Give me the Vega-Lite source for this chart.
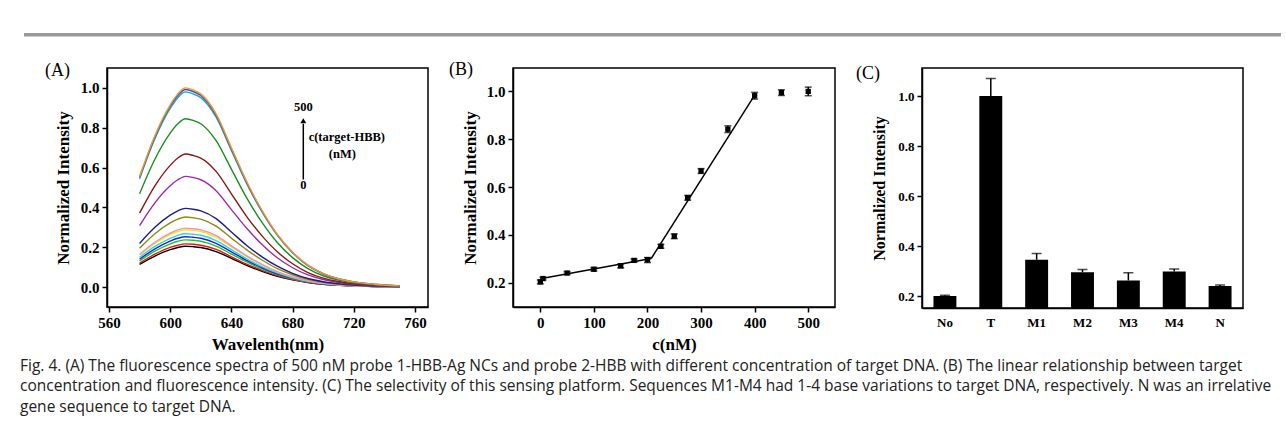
{
  "$schema": "https://vega.github.io/schema/vega-lite/v6.json",
  "padding": {"left": 20, "top": 33, "right": 0, "bottom": 0},
  "background": "white",
  "config": {
    "font": "Liberation Serif",
    "view": {"stroke": "black", "strokeWidth": 1.5},
    "axis": {"domainColor": "black", "domainWidth": 1.5, "tickColor": "black", "tickWidth": 1.5, "tickSize": 5, "labelColor": "black", "labelFont": "Liberation Serif", "labelFontWeight": "bold", "labelFontSize": 15, "labelPadding": 3, "titleFont": "Liberation Serif", "titleFontWeight": "bold", "titleFontSize": 17, "titleColor": "black", "grid": false, "labelOverlap": false, "labelFlush": false}
  },
  "datasets": {
    "spectra": [
      {"s":"s01","w":580,"v":0.114},{"s":"s01","w":590,"v":0.156},{"s":"s01","w":600,"v":0.188},{"s":"s01","w":605,"v":0.199},{"s":"s01","w":610,"v":0.205},{"s":"s01","w":615,"v":0.203},{"s":"s01","w":620,"v":0.199},{"s":"s01","w":630,"v":0.178},{"s":"s01","w":640,"v":0.144},{"s":"s01","w":650,"v":0.109},{"s":"s01","w":660,"v":0.079},{"s":"s01","w":670,"v":0.054},{"s":"s01","w":680,"v":0.036},{"s":"s01","w":690,"v":0.023},{"s":"s01","w":700,"v":0.014},{"s":"s01","w":710,"v":0.009},{"s":"s01","w":720,"v":0.005},{"s":"s01","w":735,"v":0.003},{"s":"s01","w":750,"v":0.001},
      {"s":"s02","w":580,"v":0.120},{"s":"s02","w":590,"v":0.165},{"s":"s02","w":600,"v":0.199},{"s":"s02","w":605,"v":0.210},{"s":"s02","w":610,"v":0.217},{"s":"s02","w":615,"v":0.215},{"s":"s02","w":620,"v":0.210},{"s":"s02","w":630,"v":0.189},{"s":"s02","w":640,"v":0.152},{"s":"s02","w":650,"v":0.115},{"s":"s02","w":660,"v":0.084},{"s":"s02","w":670,"v":0.058},{"s":"s02","w":680,"v":0.038},{"s":"s02","w":690,"v":0.024},{"s":"s02","w":700,"v":0.015},{"s":"s02","w":710,"v":0.009},{"s":"s02","w":720,"v":0.006},{"s":"s02","w":735,"v":0.003},{"s":"s02","w":750,"v":0.001},
      {"s":"s03","w":580,"v":0.132},{"s":"s03","w":590,"v":0.180},{"s":"s03","w":600,"v":0.217},{"s":"s03","w":605,"v":0.230},{"s":"s03","w":610,"v":0.237},{"s":"s03","w":615,"v":0.235},{"s":"s03","w":620,"v":0.230},{"s":"s03","w":630,"v":0.206},{"s":"s03","w":640,"v":0.166},{"s":"s03","w":650,"v":0.126},{"s":"s03","w":660,"v":0.091},{"s":"s03","w":670,"v":0.063},{"s":"s03","w":680,"v":0.041},{"s":"s03","w":690,"v":0.026},{"s":"s03","w":700,"v":0.016},{"s":"s03","w":710,"v":0.010},{"s":"s03","w":720,"v":0.006},{"s":"s03","w":735,"v":0.003},{"s":"s03","w":750,"v":0.001},
      {"s":"s04","w":580,"v":0.140},{"s":"s04","w":590,"v":0.192},{"s":"s04","w":600,"v":0.231},{"s":"s04","w":605,"v":0.245},{"s":"s04","w":610,"v":0.253},{"s":"s04","w":615,"v":0.250},{"s":"s04","w":620,"v":0.245},{"s":"s04","w":630,"v":0.220},{"s":"s04","w":640,"v":0.177},{"s":"s04","w":650,"v":0.134},{"s":"s04","w":660,"v":0.097},{"s":"s04","w":670,"v":0.067},{"s":"s04","w":680,"v":0.044},{"s":"s04","w":690,"v":0.028},{"s":"s04","w":700,"v":0.017},{"s":"s04","w":710,"v":0.011},{"s":"s04","w":720,"v":0.007},{"s":"s04","w":735,"v":0.003},{"s":"s04","w":750,"v":0.002},
      {"s":"s05","w":580,"v":0.149},{"s":"s05","w":590,"v":0.204},{"s":"s05","w":600,"v":0.245},{"s":"s05","w":605,"v":0.260},{"s":"s05","w":610,"v":0.268},{"s":"s05","w":615,"v":0.265},{"s":"s05","w":620,"v":0.260},{"s":"s05","w":630,"v":0.233},{"s":"s05","w":640,"v":0.188},{"s":"s05","w":650,"v":0.142},{"s":"s05","w":660,"v":0.103},{"s":"s05","w":670,"v":0.071},{"s":"s05","w":680,"v":0.047},{"s":"s05","w":690,"v":0.029},{"s":"s05","w":700,"v":0.018},{"s":"s05","w":710,"v":0.011},{"s":"s05","w":720,"v":0.007},{"s":"s05","w":735,"v":0.003},{"s":"s05","w":750,"v":0.002},
      {"s":"s06","w":580,"v":0.160},{"s":"s06","w":590,"v":0.219},{"s":"s06","w":600,"v":0.264},{"s":"s06","w":605,"v":0.279},{"s":"s06","w":610,"v":0.288},{"s":"s06","w":615,"v":0.285},{"s":"s06","w":620,"v":0.279},{"s":"s06","w":630,"v":0.251},{"s":"s06","w":640,"v":0.202},{"s":"s06","w":650,"v":0.153},{"s":"s06","w":660,"v":0.111},{"s":"s06","w":670,"v":0.076},{"s":"s06","w":680,"v":0.050},{"s":"s06","w":690,"v":0.032},{"s":"s06","w":700,"v":0.020},{"s":"s06","w":710,"v":0.012},{"s":"s06","w":720,"v":0.007},{"s":"s06","w":735,"v":0.004},{"s":"s06","w":750,"v":0.002},
      {"s":"s07","w":580,"v":0.164},{"s":"s07","w":590,"v":0.225},{"s":"s07","w":600,"v":0.271},{"s":"s07","w":605,"v":0.287},{"s":"s07","w":610,"v":0.296},{"s":"s07","w":615,"v":0.293},{"s":"s07","w":620,"v":0.287},{"s":"s07","w":630,"v":0.258},{"s":"s07","w":640,"v":0.207},{"s":"s07","w":650,"v":0.157},{"s":"s07","w":660,"v":0.114},{"s":"s07","w":670,"v":0.078},{"s":"s07","w":680,"v":0.052},{"s":"s07","w":690,"v":0.033},{"s":"s07","w":700,"v":0.020},{"s":"s07","w":710,"v":0.012},{"s":"s07","w":720,"v":0.008},{"s":"s07","w":735,"v":0.004},{"s":"s07","w":750,"v":0.002},
      {"s":"s08","w":580,"v":0.195},{"s":"s08","w":590,"v":0.268},{"s":"s08","w":600,"v":0.322},{"s":"s08","w":605,"v":0.341},{"s":"s08","w":610,"v":0.352},{"s":"s08","w":615,"v":0.348},{"s":"s08","w":620,"v":0.341},{"s":"s08","w":630,"v":0.306},{"s":"s08","w":640,"v":0.246},{"s":"s08","w":650,"v":0.187},{"s":"s08","w":660,"v":0.136},{"s":"s08","w":670,"v":0.093},{"s":"s08","w":680,"v":0.062},{"s":"s08","w":690,"v":0.039},{"s":"s08","w":700,"v":0.024},{"s":"s08","w":710,"v":0.015},{"s":"s08","w":720,"v":0.009},{"s":"s08","w":735,"v":0.005},{"s":"s08","w":750,"v":0.002},
      {"s":"s09","w":580,"v":0.219},{"s":"s09","w":590,"v":0.300},{"s":"s09","w":600,"v":0.361},{"s":"s09","w":605,"v":0.383},{"s":"s09","w":610,"v":0.395},{"s":"s09","w":615,"v":0.391},{"s":"s09","w":620,"v":0.383},{"s":"s09","w":630,"v":0.344},{"s":"s09","w":640,"v":0.277},{"s":"s09","w":650,"v":0.209},{"s":"s09","w":660,"v":0.152},{"s":"s09","w":670,"v":0.105},{"s":"s09","w":680,"v":0.069},{"s":"s09","w":690,"v":0.043},{"s":"s09","w":700,"v":0.027},{"s":"s09","w":710,"v":0.017},{"s":"s09","w":720,"v":0.010},{"s":"s09","w":735,"v":0.005},{"s":"s09","w":750,"v":0.002},
      {"s":"s10","w":580,"v":0.309},{"s":"s10","w":590,"v":0.423},{"s":"s10","w":600,"v":0.509},{"s":"s10","w":605,"v":0.539},{"s":"s10","w":610,"v":0.556},{"s":"s10","w":615,"v":0.550},{"s":"s10","w":620,"v":0.539},{"s":"s10","w":630,"v":0.484},{"s":"s10","w":640,"v":0.389},{"s":"s10","w":650,"v":0.295},{"s":"s10","w":660,"v":0.214},{"s":"s10","w":670,"v":0.147},{"s":"s10","w":680,"v":0.097},{"s":"s10","w":690,"v":0.061},{"s":"s10","w":700,"v":0.038},{"s":"s10","w":710,"v":0.023},{"s":"s10","w":720,"v":0.014},{"s":"s10","w":735,"v":0.007},{"s":"s10","w":750,"v":0.003},
      {"s":"s11","w":580,"v":0.371},{"s":"s11","w":590,"v":0.508},{"s":"s11","w":600,"v":0.611},{"s":"s11","w":605,"v":0.648},{"s":"s11","w":610,"v":0.668},{"s":"s11","w":615,"v":0.661},{"s":"s11","w":620,"v":0.648},{"s":"s11","w":630,"v":0.581},{"s":"s11","w":640,"v":0.468},{"s":"s11","w":650,"v":0.354},{"s":"s11","w":660,"v":0.257},{"s":"s11","w":670,"v":0.177},{"s":"s11","w":680,"v":0.117},{"s":"s11","w":690,"v":0.073},{"s":"s11","w":700,"v":0.045},{"s":"s11","w":710,"v":0.028},{"s":"s11","w":720,"v":0.017},{"s":"s11","w":735,"v":0.009},{"s":"s11","w":750,"v":0.004},
      {"s":"s12","w":580,"v":0.469},{"s":"s12","w":590,"v":0.642},{"s":"s12","w":600,"v":0.773},{"s":"s12","w":605,"v":0.820},{"s":"s12","w":610,"v":0.845},{"s":"s12","w":615,"v":0.837},{"s":"s12","w":620,"v":0.820},{"s":"s12","w":630,"v":0.735},{"s":"s12","w":640,"v":0.592},{"s":"s12","w":650,"v":0.448},{"s":"s12","w":660,"v":0.325},{"s":"s12","w":670,"v":0.224},{"s":"s12","w":680,"v":0.148},{"s":"s12","w":690,"v":0.093},{"s":"s12","w":700,"v":0.057},{"s":"s12","w":710,"v":0.035},{"s":"s12","w":720,"v":0.022},{"s":"s12","w":735,"v":0.011},{"s":"s12","w":750,"v":0.005},
      {"s":"s13","w":580,"v":0.544},{"s":"s13","w":590,"v":0.745},{"s":"s13","w":600,"v":0.897},{"s":"s13","w":605,"v":0.951},{"s":"s13","w":610,"v":0.980},{"s":"s13","w":615,"v":0.970},{"s":"s13","w":620,"v":0.951},{"s":"s13","w":630,"v":0.853},{"s":"s13","w":640,"v":0.686},{"s":"s13","w":650,"v":0.519},{"s":"s13","w":660,"v":0.377},{"s":"s13","w":670,"v":0.260},{"s":"s13","w":680,"v":0.172},{"s":"s13","w":690,"v":0.108},{"s":"s13","w":700,"v":0.067},{"s":"s13","w":710,"v":0.041},{"s":"s13","w":720,"v":0.025},{"s":"s13","w":735,"v":0.013},{"s":"s13","w":750,"v":0.006},
      {"s":"s14","w":580,"v":0.551},{"s":"s14","w":590,"v":0.754},{"s":"s14","w":600,"v":0.908},{"s":"s14","w":605,"v":0.962},{"s":"s14","w":610,"v":0.992},{"s":"s14","w":615,"v":0.982},{"s":"s14","w":620,"v":0.962},{"s":"s14","w":630,"v":0.863},{"s":"s14","w":640,"v":0.694},{"s":"s14","w":650,"v":0.526},{"s":"s14","w":660,"v":0.382},{"s":"s14","w":670,"v":0.263},{"s":"s14","w":680,"v":0.174},{"s":"s14","w":690,"v":0.109},{"s":"s14","w":700,"v":0.067},{"s":"s14","w":710,"v":0.042},{"s":"s14","w":720,"v":0.026},{"s":"s14","w":735,"v":0.013},{"s":"s14","w":750,"v":0.006},
      {"s":"s15","w":580,"v":0.555},{"s":"s15","w":590,"v":0.760},{"s":"s15","w":600,"v":0.915},{"s":"s15","w":605,"v":0.970},{"s":"s15","w":610,"v":1.000},{"s":"s15","w":615,"v":0.990},{"s":"s15","w":620,"v":0.970},{"s":"s15","w":630,"v":0.870},{"s":"s15","w":640,"v":0.700},{"s":"s15","w":650,"v":0.530},{"s":"s15","w":660,"v":0.385},{"s":"s15","w":670,"v":0.265},{"s":"s15","w":680,"v":0.175},{"s":"s15","w":690,"v":0.110},{"s":"s15","w":700,"v":0.068},{"s":"s15","w":710,"v":0.042},{"s":"s15","w":720,"v":0.026},{"s":"s15","w":735,"v":0.013},{"s":"s15","w":750,"v":0.006}
    ],
    "linear": [
      {"c":0,"v":0.203,"lo":0.195,"hi":0.211},
      {"c":5,"v":0.217,"lo":0.211,"hi":0.223},
      {"c":50,"v":0.240,"lo":0.234,"hi":0.246},
      {"c":100,"v":0.256,"lo":0.249,"hi":0.263},
      {"c":150,"v":0.270,"lo":0.262,"hi":0.278},
      {"c":175,"v":0.293,"lo":0.287,"hi":0.299},
      {"c":200,"v":0.296,"lo":0.284,"hi":0.305},
      {"c":225,"v":0.352,"lo":0.344,"hi":0.360},
      {"c":250,"v":0.394,"lo":0.384,"hi":0.404},
      {"c":275,"v":0.555,"lo":0.545,"hi":0.565},
      {"c":300,"v":0.667,"lo":0.657,"hi":0.677},
      {"c":350,"v":0.842,"lo":0.828,"hi":0.856},
      {"c":400,"v":0.982,"lo":0.968,"hi":0.996},
      {"c":450,"v":0.995,"lo":0.983,"hi":1.007},
      {"c":500,"v":1.000,"lo":0.982,"hi":1.018}
    ],
    "fit": [
      {"seg":"a","c":0,"v":0.216},{"seg":"a","c":207,"v":0.301},
      {"seg":"b","c":207,"v":0.301},{"seg":"b","c":401,"v":0.988}
    ],
    "select": [
      {"k":"No","v":0.200,"hi":0.203},
      {"k":"T","v":1.000,"hi":1.070},
      {"k":"M1","v":0.345,"hi":0.370},
      {"k":"M2","v":0.295,"hi":0.306},
      {"k":"M3","v":0.262,"hi":0.293},
      {"k":"M4","v":0.298,"hi":0.308},
      {"k":"N","v":0.240,"hi":0.244}
    ]
  },
  "title": {
    "text": [
      "Fig. 4. (A) The fluorescence spectra of 500 nM probe 1-HBB-Ag NCs and probe 2-HBB with different concentration of target DNA. (B) The linear relationship between target",
      "concentration and fluorescence intensity. (C) The selectivity of this sensing platform. Sequences M1-M4 had 1-4 base variations to target DNA, respectively. N was an irrelative",
      "gene sequence to target DNA."
    ],
    "orient": "bottom", "anchor": "start", "frame": "group", "dx": -4, "offset": 6,
    "font": "Open Sans", "fontSize": 15.5, "fontWeight": "normal", "color": "#222222", "lineHeight": 20.5
  },
  "spacing": 23,
  "vconcat": [
    {
      "width": 1257, "height": 3.5,
      "data": {"values": [{}]},
      "mark": {"type": "point", "opacity": 0, "size": 0},
      "encoding": {},
      "view": {"fill": "#9a9a9a", "stroke": null}
    },
    {
      "spacing": 19,
      "hconcat": [
        {
          "width": 1, "height": 1,
          "data": {"values": [{}]},
          "mark": {"type": "point", "opacity": 0, "size": 0},
          "encoding": {},
          "view": {"stroke": null}
        },
        {
          "width": 321, "height": 239,
          "title": {"text": "(A)", "anchor": "start", "frame": "group", "dx": -62, "offset": -12, "fontSize": 18, "fontWeight": "normal", "font": "Liberation Serif", "color": "black"},
          "layer": [
            {
              "data": {"name": "spectra"},
              "mark": {"type": "line", "strokeWidth": 1.4, "interpolate": "monotone"},
              "encoding": {
                "x": {"field": "w", "type": "quantitative", "scale": {"domain": [558.7, 768.5], "nice": false, "zero": false},
                      "axis": {"title": "Wavelenth(nm)", "values": [560,580,600,620,640,660,680,700,720,740,760], "labelExpr": "datum.value % 40 == 0 ? datum.label : ''", "tickSize": {"condition": {"test": "datum.value % 40 != 0", "value": 3}, "value": 5}, "titlePadding": 6}},
                "y": {"field": "v", "type": "quantitative", "scale": {"domain": [-0.1, 1.1], "nice": false, "zero": false},
                      "axis": {"title": "Normalized Intensity", "values": [0,0.1,0.2,0.3,0.4,0.5,0.6,0.7,0.8,0.9,1.0], "labelExpr": "round(datum.value*10) % 2 == 0 ? format(datum.value, '.1f') : ''", "tickSize": {"condition": {"test": "round(datum.value*10) % 2 == 1", "value": 3}, "value": 5}, "titlePadding": 8}},
                "color": {"field": "s", "type": "nominal", "legend": null,
                          "scale": {"domain": ["s01","s02","s03","s04","s05","s06","s07","s08","s09","s10","s11","s12","s13","s14","s15"],
                                    "range": ["#000000","#e8141c","#19c81e","#2020e0","#2ad4f0","#f0ec00","#f08cc8","#8a8a14","#1c1c8c","#9c2aa8","#8c1414","#1e8c1e","#2aa0b4","#3c50c8","#f59628"]}}
              }
            },
            {
              "data": {"values": [{"x": 687, "y": 0.54, "y2": 0.82}]},
              "mark": {"type": "rule", "strokeWidth": 1.5, "color": "black"},
              "encoding": {"x": {"field": "x", "type": "quantitative"}, "y": {"field": "y", "type": "quantitative"}, "y2": {"field": "y2"}}
            },
            {
              "data": {"values": [{"x": 687, "y": 0.835}]},
              "mark": {"type": "point", "shape": "triangle-up", "filled": true, "color": "black", "size": 35, "opacity": 1},
              "encoding": {"x": {"field": "x", "type": "quantitative"}, "y": {"field": "y", "type": "quantitative"}}
            },
            {
              "data": {"values": [{"x": 687, "y": 0.903, "t": "500"}, {"x": 687, "y": 0.515, "t": "0"}, {"x": 712.5, "y": 0.668, "t": "(nM)"}]},
              "mark": {"type": "text", "fontWeight": "bold", "fontSize": 12.5, "align": "center", "baseline": "middle", "color": "black", "font": "Liberation Serif"},
              "encoding": {"x": {"field": "x", "type": "quantitative"}, "y": {"field": "y", "type": "quantitative"}, "text": {"field": "t"}}
            },
            {
              "data": {"values": [{"x": 690.5, "y": 0.753, "t": "c(target-HBB)"}]},
              "mark": {"type": "text", "fontWeight": "bold", "fontSize": 12.5, "align": "left", "baseline": "middle", "color": "black", "font": "Liberation Serif"},
              "encoding": {"x": {"field": "x", "type": "quantitative"}, "y": {"field": "y", "type": "quantitative"}, "text": {"field": "t"}}
            }
          ]
        },
        {
          "width": 322, "height": 239,
          "title": {"text": "(B)", "anchor": "start", "frame": "group", "dx": -64, "offset": -11, "fontSize": 18, "fontWeight": "normal", "font": "Liberation Serif", "color": "black"},
          "layer": [
            {
              "data": {"name": "fit"},
              "mark": {"type": "line", "strokeWidth": 1.5, "color": "black"},
              "encoding": {
                "x": {"field": "c", "type": "quantitative", "scale": {"domain": [-51, 550], "nice": false, "zero": false},
                      "axis": {"title": "c(nM)", "values": [0,50,100,150,200,250,300,350,400,450,500], "labelExpr": "datum.value % 100 == 0 ? datum.label : ''", "tickSize": {"condition": {"test": "datum.value % 100 != 0", "value": 3}, "value": 5}, "titlePadding": 6}},
                "y": {"field": "v", "type": "quantitative", "scale": {"domain": [0.098, 1.098], "nice": false, "zero": false},
                      "axis": {"title": "Normalized Intensity", "values": [0.2,0.3,0.4,0.5,0.6,0.7,0.8,0.9,1.0], "labelExpr": "round(datum.value*10) % 2 == 0 ? format(datum.value, '.1f') : ''", "tickSize": {"condition": {"test": "round(datum.value*10) % 2 == 1", "value": 3}, "value": 5}, "titlePadding": 6.5}},
                "detail": {"field": "seg"}
              }
            },
            {
              "data": {"name": "linear"},
              "mark": {"type": "rule", "strokeWidth": 1.5, "color": "black"},
              "encoding": {"x": {"field": "c", "type": "quantitative"}, "y": {"field": "lo", "type": "quantitative"}, "y2": {"field": "hi"}}
            },
            {
              "data": {"name": "linear"},
              "mark": {"type": "tick", "orient": "horizontal", "size": 7, "thickness": 1.5, "color": "black"},
              "encoding": {"x": {"field": "c", "type": "quantitative"}, "y": {"field": "lo", "type": "quantitative"}}
            },
            {
              "data": {"name": "linear"},
              "mark": {"type": "tick", "orient": "horizontal", "size": 7, "thickness": 1.5, "color": "black"},
              "encoding": {"x": {"field": "c", "type": "quantitative"}, "y": {"field": "hi", "type": "quantitative"}}
            },
            {
              "data": {"name": "linear"},
              "mark": {"type": "point", "shape": "square", "filled": true, "size": 28, "color": "black", "opacity": 1},
              "encoding": {"x": {"field": "c", "type": "quantitative"}, "y": {"field": "v", "type": "quantitative"}}
            }
          ]
        },
        {
          "width": 321, "height": 240,
          "title": {"text": "(C)", "anchor": "start", "frame": "group", "dx": -66, "offset": -15, "fontSize": 18, "fontWeight": "normal", "font": "Liberation Serif", "color": "black"},
          "data": {"name": "select"},
          "layer": [
            {
              "mark": {"type": "bar", "color": "black"},
              "encoding": {
                "x": {"field": "k", "type": "nominal", "sort": ["No","T","M1","M2","M3","M4","N"], "scale": {"paddingInner": 0.5, "paddingOuter": 0.25},
                      "axis": {"title": null, "labelAngle": 0, "ticks": false, "labelPadding": 8.5, "labelFontSize": 13}},
                "y": {"field": "v", "type": "quantitative", "scale": {"domain": [0.152, 1.112], "nice": false, "zero": false},
                      "axis": {"title": "Normalized Intensity", "titleFontSize": 16, "labelFontSize": 13, "values": [0.2,0.3,0.4,0.5,0.6,0.7,0.8,0.9,1.0], "labelExpr": "round(datum.value*10) % 2 == 0 ? format(datum.value, '.1f') : ''", "tickSize": {"condition": {"test": "round(datum.value*10) % 2 == 1", "value": 3}, "value": 5}, "titlePadding": 10.5}},
                "y2": {"datum": 0.152}
              }
            },
            {
              "mark": {"type": "rule", "strokeWidth": 1.5, "color": "black"},
              "encoding": {"x": {"field": "k", "type": "nominal", "sort": ["No","T","M1","M2","M3","M4","N"]}, "y": {"field": "v", "type": "quantitative"}, "y2": {"field": "hi"}}
            },
            {
              "mark": {"type": "tick", "orient": "horizontal", "size": 10, "thickness": 1.5, "color": "black"},
              "encoding": {"x": {"field": "k", "type": "nominal", "sort": ["No","T","M1","M2","M3","M4","N"]}, "y": {"field": "hi", "type": "quantitative"}}
            }
          ]
        }
      ]
    }
  ]
}
